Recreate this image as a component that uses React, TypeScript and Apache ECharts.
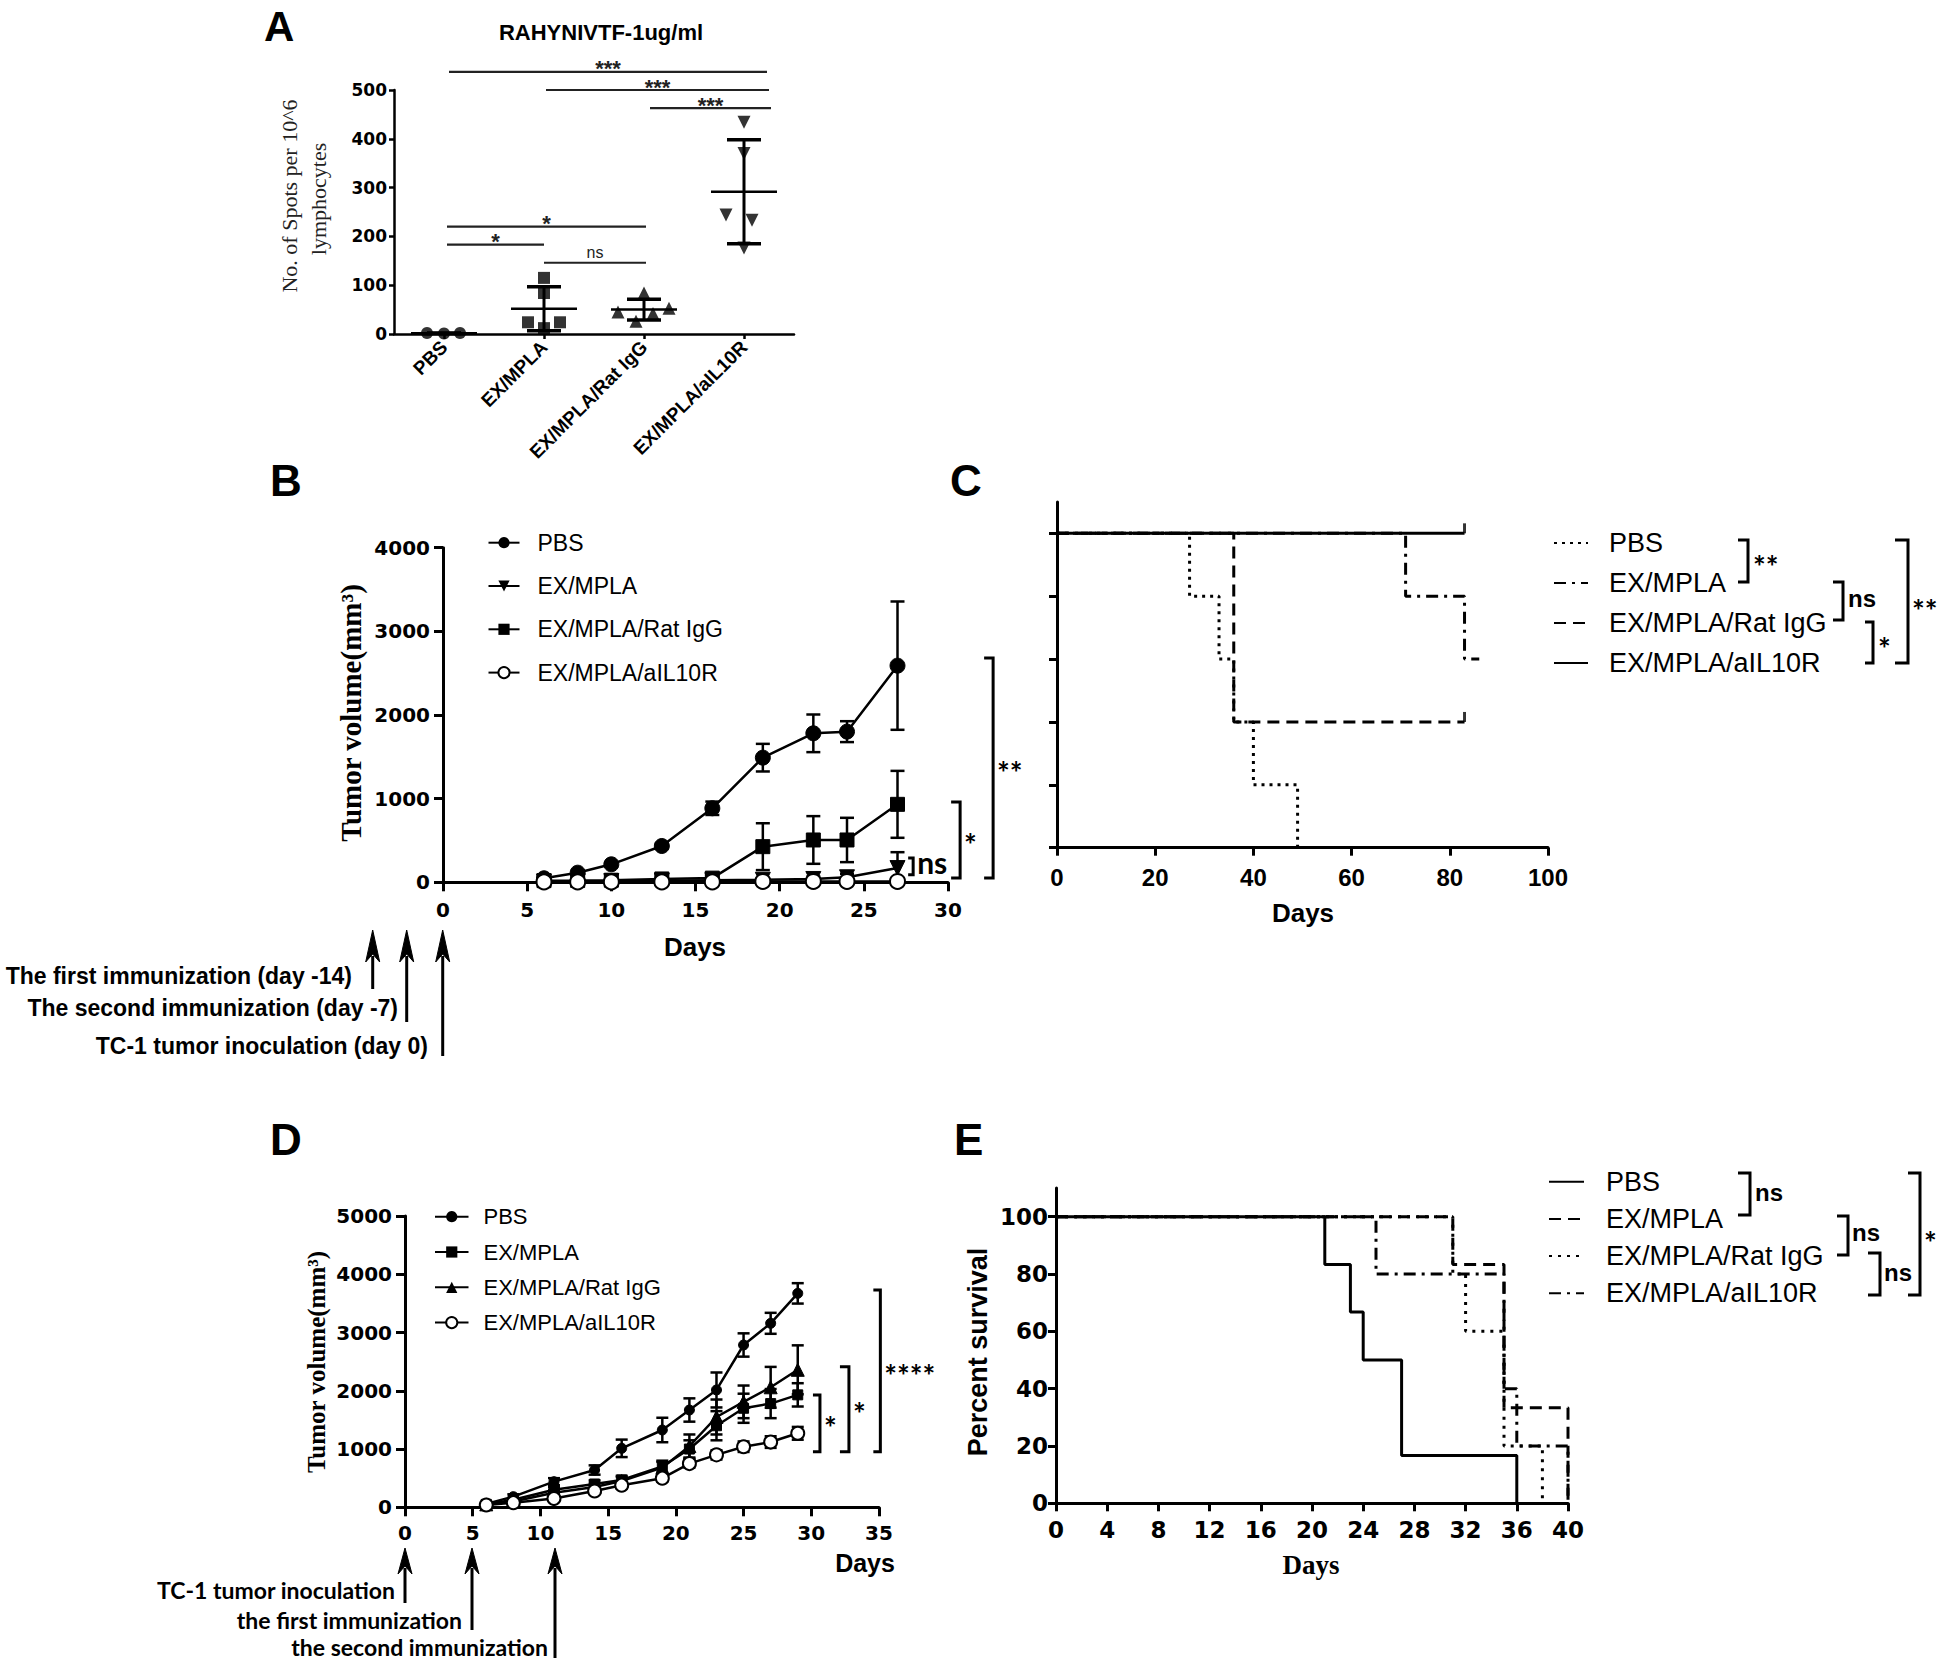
import React, { useEffect, useRef } from 'react';
import * as echarts from 'echarts';

const SANS = "'Liberation Sans', Arial, Helvetica, sans-serif";
const DEJAVU = "'DejaVu Sans', 'Liberation Sans', sans-serif";
const SERIF = "'Liberation Serif', 'Times New Roman', Times, serif";
const HUMAN = "Lato, 'Open Sans', 'Liberation Sans', sans-serif";
const INK = '#000';

// ---------------- Panel A (ELISPOT scatter) ----------------
const aCategories = ['PBS', 'EX/MPLA', 'EX/MPLA/Rat IgG', 'EX/MPLA/aIL10R'];
const aPBSOffsets = [-0.17, 0, 0.16];
const aPBSValues = [2, 1, 2];
const aEXOffsets = [0, 0, -0.16, 0.16, 0];
const aEXValues = [115, 84, 24, 24, 12];
const aRatOffsets = [0, -0.26, 0.25, -0.08, 0.09];
const aRatValues = [84, 45, 53, 26, 42];
const aILOffsets = [0, 0, -0.18, 0.08, 0];
const aILValues = [434, 370, 244, 233, 176];
const aSigFrom = [0.05, 1.02, 2.06, 0.03, 0.03, 1.0];
const aSigTo = [3.23, 3.25, 3.27, 2.02, 1.0, 2.02];
const aSigY = [537, 500, 463, 220, 183, 146];
const aSigText = ['***', '***', '***', '*', '*', 'ns'];

// ---------------- Panel B (tumor volume, prophylactic) ----------------
const bDays = [6, 8, 10, 13, 16, 19, 22, 24, 27];
const bPBS = [48, 115, 215, 434, 885, 1490, 1781, 1801, 2590];
const bPBSErr = [15, 20, 25, 30, 80, 165, 225, 125, 767];
const bEX = [10, 12, 14, 20, 25, 30, 40, 60, 170];
const bEXErr = [5, 5, 5, 10, 10, 20, 30, 40, 190];
const bRat = [20, 22, 25, 40, 50, 426, 506, 506, 932];
const bRatErr = [10, 10, 10, 20, 30, 280, 285, 265, 400];
const bIL = [5, 5, 5, 5, 5, 10, 10, 10, 10];
const bILErr = [3, 3, 3, 3, 3, 10, 10, 10, 10];
const bBracketX = [27.93, 30.72, 32.68];
const bBracketLow = [90, 51, 51];
const bBracketHigh = [290, 960, 2681];
const bBracketArm = [5, 9, 9];
const bBracketText = ['ns', '*', '**'];

// ---------------- Panel C (survival, prophylactic) ----------------
const cPBSDays = [0, 27, 33, 36, 40, 49];
const cPBSSurv = [100, 80, 60, 40, 20, 0];
const cEXDays = [0, 71, 83, 86];
const cEXSurv = [100, 80, 60, 60];
const cRatDays = [0, 36, 83];
const cRatSurv = [100, 40, 40];
const cILDays = [0, 83];
const cILSurv = [100, 100];
const cCensorDays = [83, 83];
const cCensorSurv = [100, 40];

// ---------------- Panel D (tumor volume, therapeutic) ----------------
const dDays = [6, 8, 11, 14, 16, 19, 21, 23, 25, 27, 29];
const dPBS = [57, 183, 440, 640, 1012, 1327, 1670, 2014, 2786, 3158, 3672];
const dPBSErr = [20, 40, 60, 80, 150, 210, 200, 300, 200, 180, 175];
const dEX = [50, 130, 300, 400, 470, 700, 1000, 1400, 1700, 1780, 1930];
const dEXErr = [15, 30, 50, 60, 70, 100, 150, 250, 250, 250, 200];
const dRat = [50, 100, 250, 350, 450, 680, 1050, 1550, 1810, 2060, 2360];
const dRatErr = [15, 30, 50, 60, 70, 100, 200, 300, 280, 350, 420];
const dIL = [40, 80, 150, 280, 380, 500, 750, 900, 1040, 1120, 1270];
const dILErr = [10, 20, 40, 50, 60, 60, 70, 80, 90, 100, 110];
const dBracketX = [30.64, 32.78, 35.1];
const dBracketLow = [954, 954, 954];
const dBracketHigh = [1928, 2413, 3730];
const dBracketArm = [7, 9, 7];
const dBracketText = ['*', '*', '****'];

// ---------------- Panel E (survival, therapeutic) ----------------
const ePBSDays = [0, 21, 23, 24, 27, 36];
const ePBSSurv = [100, 83.3, 66.7, 50, 16.7, 0];
const eEXDays = [0, 31, 35, 40];
const eEXSurv = [100, 83.3, 33.3, 0];
const eRatDays = [0, 31, 32, 35, 38];
const eRatSurv = [100, 80, 60, 20, 0];
const eILDays = [0, 25, 35, 36, 40];
const eILSurv = [100, 80, 40, 20, 0];

const survTicks = [0, 20, 40, 60, 80, 100];

function meanOf(v: number[]) {
  return v.reduce((s, x) => s + x, 0) / v.length;
}
function sdOf(v: number[]) {
  const m = meanOf(v);
  return Math.sqrt(v.reduce((s, x) => s + (x - m) * (x - m), 0) / (v.length - 1));
}
const zip = (xs: number[], ys: number[]) => xs.map((x, i) => [x, ys[i]]);

function valueAxis(gridIndex: number, min: number, max: number, interval: number, o: any) {
  const tickExtra = o.tickValues ? { customValues: o.tickValues } : {};
  return {
    gridIndex,
    type: 'value',
    min,
    max,
    interval,
    axisLine: { show: true, onZero: false, lineStyle: { color: INK, width: o.lw ?? 3 } },
    axisTick: { show: true, length: o.tick, lineStyle: { color: INK, width: o.lw ?? 3 }, ...tickExtra },
    axisLabel: {
      show: o.labels !== false,
      margin: o.margin ?? 8,
      color: INK,
      fontFamily: o.ff ?? DEJAVU,
      fontWeight: 'bold',
      fontSize: o.fs ?? 20,
      hideOverlap: false,
      formatter: (v: number) => String(v),
      ...tickExtra,
    },
    splitLine: { show: false },
  };
}

function errorBarSeries(name: string, xIdx: number, yIdx: number, days: number[], vals: number[], errs: number[], cap: number) {
  return {
    type: 'custom',
    name,
    xAxisIndex: xIdx,
    yAxisIndex: yIdx,
    clip: false,
    z: 3,
    data: days.map((d, i) => [d, Math.max(0, vals[i] - errs[i]), vals[i] + errs[i]]),
    encode: { x: 0, y: [1, 2] },
    renderItem: (_p: any, api: any) => {
      const lo = api.coord([api.value(0), api.value(1)]);
      const hi = api.coord([api.value(0), api.value(2)]);
      const st = { stroke: INK, lineWidth: 2.5 };
      return {
        type: 'group',
        children: [
          { type: 'line', shape: { x1: lo[0], y1: lo[1], x2: hi[0], y2: hi[1] }, style: st },
          { type: 'line', shape: { x1: lo[0] - cap, y1: lo[1], x2: lo[0] + cap, y2: lo[1] }, style: st },
          { type: 'line', shape: { x1: hi[0] - cap, y1: hi[1], x2: hi[0] + cap, y2: hi[1] }, style: st },
        ],
      };
    },
  };
}

function bracketSeries(name: string, xIdx: number, yIdx: number, xs: number[], lows: number[], highs: number[], arms: number[], texts: string[], fontSize: number) {
  return {
    type: 'custom',
    name,
    xAxisIndex: xIdx,
    yAxisIndex: yIdx,
    clip: false,
    z: 5,
    data: xs.map((x, i) => [x, lows[i], highs[i], i]),
    encode: { x: 0, y: [1, 2] },
    renderItem: (_p: any, api: any) => {
      const i = api.value(3);
      const a = api.coord([api.value(0), api.value(1)]);
      const b = api.coord([api.value(0), api.value(2)]);
      const arm = arms[i];
      return {
        type: 'group',
        children: [
          {
            type: 'polyline',
            shape: { points: [[a[0] - arm, a[1]], [a[0], a[1]], [b[0], b[1]], [b[0] - arm, b[1]]] },
            style: { stroke: INK, lineWidth: 3, fill: null },
          },
          {
            type: 'text',
            x: a[0] + 4,
            y: (a[1] + b[1]) / 2 + (texts[i] === 'ns' ? -4 : 4),
            style: { text: texts[i], fill: INK, fontFamily: HUMAN, fontWeight: 'bold', fontSize, align: 'left', verticalAlign: 'middle' },
          },
        ],
      };
    },
  };
}

function txt(x: number, y: number, text: string, font: any, extra: any = {}) {
  return {
    type: 'text',
    x,
    y,
    rotation: extra.rotation ?? 0,
    style: {
      text,
      fill: font.color ?? INK,
      fontFamily: font.family ?? SANS,
      fontWeight: font.weight ?? 'bold',
      fontSize: font.size,
      align: extra.align ?? 'left',
      verticalAlign: 'middle',
    },
  };
}

function arrow(x: number, tip: number, bottom: number, headH: number, headW: number) {
  return [
    { type: 'line', shape: { x1: x, y1: tip + headH - 6, x2: x, y2: bottom }, style: { stroke: INK, lineWidth: 3 } },
    {
      type: 'polygon',
      shape: { points: [[x, tip], [x - headW / 2, tip + headH], [x, tip + headH - 8], [x + headW / 2, tip + headH]] },
      style: { fill: INK, stroke: INK, lineWidth: 1 },
    },
  ];
}

function bracket(xl: number, xr: number, yt: number, yb: number) {
  return {
    type: 'polyline',
    shape: { points: [[xl, yt], [xr, yt], [xr, yb], [xl, yb]] },
    style: { stroke: INK, lineWidth: 3, fill: null },
  };
}

function buildOption() {
  // Panel A statistics (mean ± SD of the plotted points)
  const aGroups = [aPBSValues, aEXValues, aRatValues, aILValues];
  const aStats = aGroups.map((v, i) => {
    const m = meanOf(v);
    const s = sdOf(v);
    return [i, m, Math.max(0, m - s), m + s];
  });

  const lineCommon = (name: string, xIdx: number, yIdx: number, data: number[][], symbol: string, size: number, extra: any = {}) => ({
    type: 'line',
    name,
    xAxisIndex: xIdx,
    yAxisIndex: yIdx,
    data,
    symbol,
    symbolSize: size,
    showSymbol: true,
    lineStyle: { color: INK, width: 2.5 },
    itemStyle: { color: INK, borderColor: INK },
    z: 4,
    ...extra,
  });

  const stepLine = (name: string, xIdx: number, yIdx: number, xs: number[], ys: number[], type: any) => ({
    type: 'line',
    name,
    xAxisIndex: xIdx,
    yAxisIndex: yIdx,
    step: 'end',
    data: zip(xs, ys),
    symbol: 'none',
    lineStyle: { color: INK, width: 3, type },
    itemStyle: { color: INK },
    z: 4,
  });

  const scatterA = (name: string, idx: number, offs: number[], vals: number[], symbol: string, size: number, rotate = 0) => ({
    type: 'scatter',
    name,
    xAxisIndex: 1,
    yAxisIndex: 0,
    data: vals.map((v, i) => [idx + offs[i], v]),
    symbol,
    symbolSize: size,
    symbolRotate: rotate,
    itemStyle: { color: INK },
    z: 4,
  });

  const series: any[] = [
    // ---- A ----
    scatterA('A:PBS', 0, aPBSOffsets, aPBSValues, 'circle', 12),
    scatterA('A:EX/MPLA', 1, aEXOffsets, aEXValues, 'rect', 12),
    scatterA('A:EX/MPLA/Rat IgG', 2, aRatOffsets, aRatValues, 'triangle', 13),
    scatterA('A:EX/MPLA/aIL10R', 3, aILOffsets, aILValues, 'triangle', 13, 180),
    {
      type: 'custom',
      name: 'A:meanSD',
      xAxisIndex: 1,
      yAxisIndex: 0,
      clip: false,
      z: 3,
      data: aStats,
      encode: { x: 0, y: [1, 2, 3] },
      renderItem: (_p: any, api: any) => {
        const i = api.value(0);
        const m = api.value(1);
        const lo = api.value(2);
        const hi = api.value(3);
        const ml = api.coord([i - 0.33, m]);
        const mr = api.coord([i + 0.33, m]);
        const pl = api.coord([i, lo]);
        const ph = api.coord([i, hi]);
        const cw = api.coord([i + 0.17, lo])[0] - pl[0];
        return {
          type: 'group',
          children: [
            { type: 'line', shape: { x1: ml[0], y1: ml[1], x2: mr[0], y2: mr[1] }, style: { stroke: INK, lineWidth: 2.5 } },
            { type: 'line', shape: { x1: pl[0], y1: pl[1], x2: ph[0], y2: ph[1] }, style: { stroke: INK, lineWidth: 3 } },
            { type: 'line', shape: { x1: pl[0] - cw, y1: pl[1], x2: pl[0] + cw, y2: pl[1] }, style: { stroke: INK, lineWidth: 3.5 } },
            { type: 'line', shape: { x1: ph[0] - cw, y1: ph[1], x2: ph[0] + cw, y2: ph[1] }, style: { stroke: INK, lineWidth: 3.5 } },
          ],
        };
      },
    },
    {
      type: 'custom',
      name: 'A:sig',
      xAxisIndex: 1,
      yAxisIndex: 0,
      clip: false,
      z: 3,
      data: aSigFrom.map((f, i) => [f, aSigY[i], aSigTo[i], i]),
      encode: { x: 0, y: 1 },
      renderItem: (_p: any, api: any) => {
        const i = api.value(3);
        const a = api.coord([api.value(0), api.value(1)]);
        const b = api.coord([api.value(2), api.value(1)]);
        const isNs = aSigText[i] === 'ns';
        return {
          type: 'group',
          children: [
            { type: 'line', shape: { x1: a[0], y1: a[1], x2: b[0], y2: b[1] }, style: { stroke: '#222', lineWidth: 2.2 } },
            {
              type: 'text',
              x: (a[0] + b[0]) / 2,
              y: a[1] + (isNs ? -10 : -3),
              style: {
                text: aSigText[i],
                fill: '#222',
                fontFamily: SANS,
                fontWeight: isNs ? 'normal' : 'bold',
                fontSize: isNs ? 16 : 22,
                align: 'center',
                verticalAlign: 'middle',
              },
            },
          ],
        };
      },
    },

    // ---- B ----
    errorBarSeries('B:errPBS', 2, 1, bDays, bPBS, bPBSErr, 7),
    errorBarSeries('B:errEX', 2, 1, bDays, bEX, bEXErr, 7),
    errorBarSeries('B:errRat', 2, 1, bDays, bRat, bRatErr, 7),
    errorBarSeries('B:errIL', 2, 1, bDays, bIL, bILErr, 7),
    lineCommon('B:PBS', 2, 1, zip(bDays, bPBS), 'circle', 15),
    lineCommon('B:EX/MPLA', 2, 1, zip(bDays, bEX), 'triangle', 15, { symbolRotate: 180 }),
    lineCommon('B:EX/MPLA/Rat IgG', 2, 1, zip(bDays, bRat), 'rect', 14),
    lineCommon('B:EX/MPLA/aIL10R', 2, 1, zip(bDays, bIL), 'emptyCircle', 15, {
      itemStyle: { color: INK, borderColor: INK, borderWidth: 3.5 },
    }),
    bracketSeries('B:brackets', 2, 1, bBracketX, bBracketLow, bBracketHigh, bBracketArm, bBracketText, 30),

    // ---- C ----
    stepLine('C:PBS', 3, 2, cPBSDays, cPBSSurv, [3, 5]),
    stepLine('C:EX/MPLA', 3, 2, cEXDays, cEXSurv, [12, 6, 3, 6]),
    stepLine('C:EX/MPLA/Rat IgG', 3, 2, cRatDays, cRatSurv, [12, 7]),
    stepLine('C:EX/MPLA/aIL10R', 3, 2, cILDays, cILSurv, 'solid'),
    {
      type: 'scatter',
      name: 'C:censor',
      xAxisIndex: 3,
      yAxisIndex: 2,
      data: zip(cCensorDays, cCensorSurv),
      symbol: 'rect',
      symbolSize: [3, 10],
      symbolOffset: [0, -5],
      itemStyle: { color: INK },
      z: 4,
    },

    // ---- D ----
    errorBarSeries('D:errPBS', 4, 3, dDays, dPBS, dPBSErr, 6),
    errorBarSeries('D:errEX', 4, 3, dDays, dEX, dEXErr, 6),
    errorBarSeries('D:errRat', 4, 3, dDays, dRat, dRatErr, 6),
    errorBarSeries('D:errIL', 4, 3, dDays, dIL, dILErr, 6),
    lineCommon('D:PBS', 4, 3, zip(dDays, dPBS), 'circle', 10),
    lineCommon('D:EX/MPLA', 4, 3, zip(dDays, dEX), 'rect', 10),
    lineCommon('D:EX/MPLA/Rat IgG', 4, 3, zip(dDays, dRat), 'triangle', 13),
    lineCommon('D:EX/MPLA/aIL10R', 4, 3, zip(dDays, dIL), 'emptyCircle', 13, {
      itemStyle: { color: INK, borderColor: INK, borderWidth: 3.5 },
    }),
    bracketSeries('D:brackets', 4, 3, dBracketX, dBracketLow, dBracketHigh, dBracketArm, dBracketText, 30),

    // ---- E ----
    stepLine('E:PBS', 5, 4, ePBSDays, ePBSSurv, 'solid'),
    stepLine('E:EX/MPLA', 5, 4, eEXDays, eEXSurv, [12, 7]),
    stepLine('E:EX/MPLA/Rat IgG', 5, 4, eRatDays, eRatSurv, [3, 6]),
    stepLine('E:EX/MPLA/aIL10R', 5, 4, eILDays, eILSurv, [12, 6, 3, 6]),
  ];

  const legendNames = ['PBS', 'EX/MPLA', 'EX/MPLA/Rat IgG', 'EX/MPLA/aIL10R'];
  const mkLegend = (prefix: string, left: number, firstRow: number, rowGap: number, itemWidth: number, fontSize: number, textGap: number, lineOnly: boolean) => ({
    orient: 'vertical',
    left,
    top: firstRow - fontSize / 2,
    padding: 0,
    itemWidth,
    itemHeight: 14,
    itemGap: rowGap - fontSize,
    selectedMode: false,
    data: legendNames.map((n) => prefix + n),
    formatter: (n: string) => n.slice(2),
    ...(lineOnly ? { itemStyle: { opacity: 0 } } : {}),
    textStyle: { fontFamily: SANS, fontSize, lineHeight: fontSize, color: INK, padding: [0, 0, 0, textGap] },
  });

  const graphics: any[] = [
    // panel letters
    txt(264, 26, 'A', { size: 42 }),
    txt(270, 480, 'B', { size: 44 }),
    txt(950, 480, 'C', { size: 44 }),
    txt(270, 1139, 'D', { size: 44 }),
    txt(954, 1139, 'E', { size: 44 }),
    // A
    txt(601, 32, 'RAHYNIVTF-1ug/ml', { size: 22 }, { align: 'center' }),
    txt(289, 196, 'No. of Spots per 10^6', { size: 22, family: SERIF, weight: 'normal', color: '#222' }, { align: 'center', rotation: Math.PI / 2 }),
    txt(318, 199, 'lymphocytes', { size: 22, family: SERIF, weight: 'normal', color: '#222' }, { align: 'center', rotation: Math.PI / 2 }),
    // B
    txt(351, 713, 'Tumor volume(mm³)', { size: 29, family: SERIF }, { align: 'center', rotation: Math.PI / 2 }),
    txt(695, 947, 'Days', { size: 26 }, { align: 'center' }),
    txt(352, 976, 'The first immunization (day -14)', { size: 23 }, { align: 'right' }),
    txt(398, 1008, 'The second immunization (day -7)', { size: 23 }, { align: 'right' }),
    txt(428, 1046, 'TC-1 tumor inoculation (day 0)', { size: 23 }, { align: 'right' }),
    ...arrow(372.7, 930, 989, 32, 14),
    ...arrow(406.7, 930, 1022, 32, 14),
    ...arrow(442.7, 930, 1056, 32, 14),
    // C
    txt(1303, 913, 'Days', { size: 26 }, { align: 'center' }),
    bracket(1738, 1748, 540, 582),
    txt(1753, 566, '**', { size: 30, family: HUMAN }),
    bracket(1833, 1843, 582, 620),
    txt(1848, 598, 'ns', { size: 24 }),
    bracket(1865, 1873, 622, 663),
    txt(1878, 648, '*', { size: 30, family: HUMAN }),
    bracket(1895, 1908, 540, 663),
    txt(1912, 610, '**', { size: 30, family: HUMAN }),
    // D
    txt(316, 1362, 'Tumor volume(mm³)', { size: 25, family: SERIF }, { align: 'center', rotation: Math.PI / 2 }),
    txt(865, 1563, 'Days', { size: 25 }, { align: 'center' }),
    txt(395, 1590, 'TC-1 tumor inoculation', { size: 23, family: HUMAN }, { align: 'right' }),
    txt(462, 1620, 'the first immunization', { size: 23, family: HUMAN }, { align: 'right' }),
    txt(548, 1647, 'the second immunization', { size: 23, family: HUMAN }, { align: 'right' }),
    ...arrow(405, 1548, 1603, 26, 14),
    ...arrow(472, 1548, 1630, 26, 14),
    ...arrow(555, 1548, 1658, 26, 14),
    // E
    txt(978, 1352, 'Percent survival', { size: 27 }, { align: 'center', rotation: Math.PI / 2 }),
    txt(1311, 1565, 'Days', { size: 27, family: SERIF }, { align: 'center' }),
    bracket(1738, 1750, 1173, 1215),
    txt(1755, 1192, 'ns', { size: 24 }),
    bracket(1837, 1848, 1216, 1255),
    txt(1852, 1232, 'ns', { size: 24 }),
    bracket(1868, 1880, 1253, 1295),
    txt(1884, 1272, 'ns', { size: 24 }),
    bracket(1908, 1920, 1173, 1295),
    txt(1924, 1242, '*', { size: 30, family: HUMAN }),
  ];

  return {
    animation: false,
    backgroundColor: '#fff',
    textStyle: { fontFamily: SANS, color: INK },
    grid: [
      { left: 394, top: 90, width: 400, height: 244, outerBoundsMode: 'none' },
      { left: 443, top: 547.7, width: 505, height: 334.6, outerBoundsMode: 'none' },
      { left: 1057, top: 501.9, width: 491, height: 345.8, outerBoundsMode: 'none' },
      { left: 405, top: 1216, width: 474, height: 291.3, outerBoundsMode: 'none' },
      { left: 1056, top: 1188, width: 512, height: 315.3, outerBoundsMode: 'none' },
    ],
    xAxis: [
      {
        gridIndex: 0,
        type: 'category',
        data: aCategories,
        boundaryGap: true,
        axisLine: { show: true, lineStyle: { color: INK, width: 2.5 } },
        axisTick: { show: true, alignWithLabel: true, interval: 0, length: 5, lineStyle: { color: INK, width: 2.5 } },
        axisLabel: { interval: 0, rotate: 45, margin: 10, color: INK, fontFamily: SANS, fontWeight: 'bold', fontSize: 19 },
        splitLine: { show: false },
      },
      { gridIndex: 0, type: 'value', min: -0.5, max: 3.5, show: false },
      valueAxis(1, 0, 30, 5, { tick: 9, margin: 18, fs: 20 }),
      valueAxis(2, 0, 100, 20, { tick: 8, margin: 18, fs: 24, ff: SANS }),
      valueAxis(3, 0, 35, 5, { tick: 9, margin: 16, fs: 20 }),
      valueAxis(4, 0, 40, 4, { tick: 8, margin: 15, fs: 23 }),
    ],
    yAxis: [
      valueAxis(0, 0, 500, 100, { tick: 5, margin: 7, fs: 17, lw: 2.5 }),
      valueAxis(1, 0, 4000, 1000, { tick: 9, margin: 13, fs: 20 }),
      valueAxis(2, 0, 110, 20, { tick: 8, labels: false, tickValues: survTicks }),
      valueAxis(3, 0, 5000, 1000, { tick: 9, margin: 13, fs: 20 }),
      valueAxis(4, 0, 110, 20, { tick: 8, margin: 8, fs: 23, tickValues: survTicks }),
    ],
    legend: [
      mkLegend('B:', 487.5, 542.7, 43.3, 31, 23, 13, false),
      mkLegend('C:', 1553, 543, 40, 34, 27, 16, true),
      mkLegend('D:', 434, 1216.7, 35.3, 33.5, 22, 10, false),
      mkLegend('E:', 1548, 1181.7, 37.2, 35, 27, 17, true),
    ],
    series,
    graphic: { elements: graphics },
  };
}

export default function App() {
  const ref = useRef<HTMLDivElement>(null);
  useEffect(() => {
    const chart = echarts.init(ref.current!, null, { renderer: 'svg', width: 1946, height: 1663 });
    chart.setOption(buildOption() as any);
    return () => chart.dispose();
  }, []);
  return (
    <div
      ref={ref}
      style={{ position: 'absolute', left: 0, top: 0, width: 1946, height: 1663, background: '#fff' }}
    />
  );
}
